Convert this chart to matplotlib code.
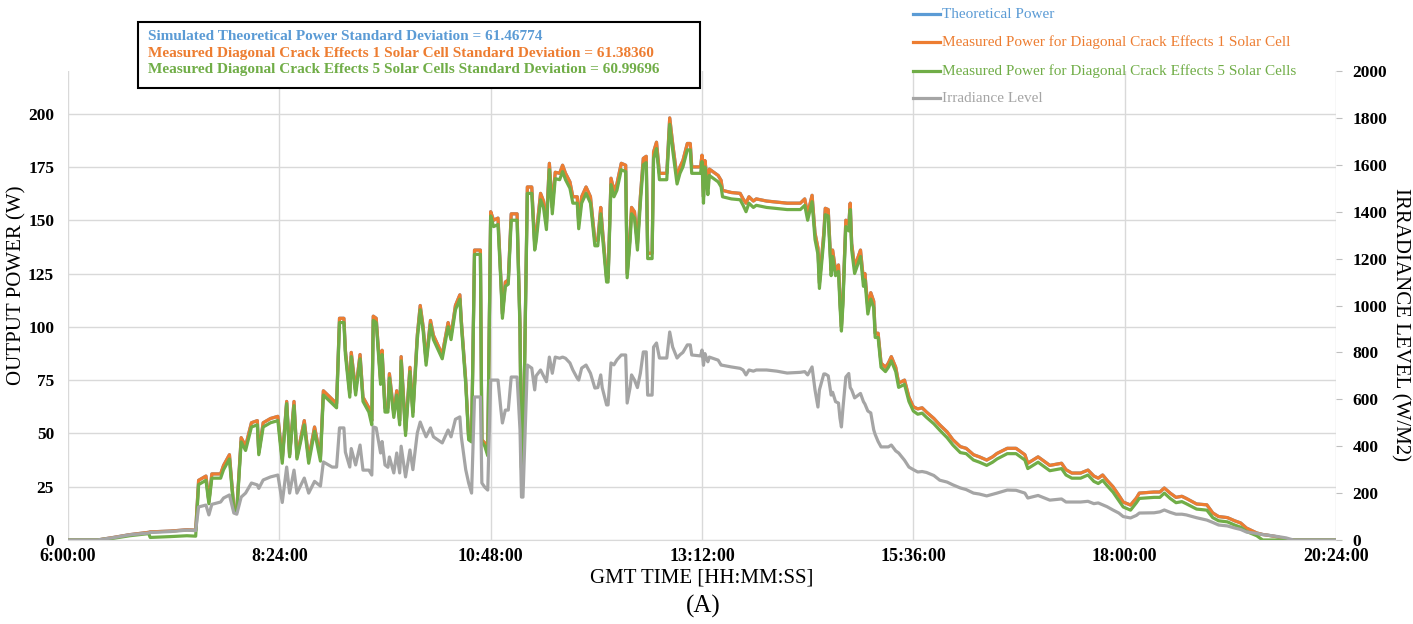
import matplotlib
matplotlib.use("Agg")
import matplotlib.pyplot as plt
from matplotlib.lines import Line2D
from matplotlib.patches import Rectangle
from matplotlib.ticker import FuncFormatter

plt.rcParams['font.family'] = ['Liberation Serif', 'DejaVu Serif']

# Logged samples (GMT), output power in W and irradiance in W/m2
times = [
    "6:00", "6:20", "6:31", "6:42", "6:55", "6:56", "7:10", "7:21", "7:27", "7:29",
    "7:34", "7:36", "7:38", "7:44", "7:46", "7:50", "7:53", "7:55", "7:58", "8:01",
    "8:05", "8:09", "8:10", "8:13", "8:18", "8:23", "8:26", "8:29", "8:31", "8:34",
    "8:36", "8:41", "8:44", "8:48", "8:52", "8:54", "9:00", "9:03", "9:05", "9:08",
    "9:09", "9:12", "9:13", "9:16", "9:19", "9:21", "9:25", "9:27", "9:28", "9:30",
    "9:33", "9:34", "9:36", "9:38", "9:39", "9:42", "9:44", "9:46", "9:47", "9:50",
    "9:53", "9:55", "9:58", "10:00", "10:02", "10:04", "10:07", "10:09", "10:15", "10:19",
    "10:21", "10:24", "10:27", "10:28", "10:31", "10:33", "10:35", "10:37", "10:41", "10:42",
    "10:44", "10:46", "10:48", "10:50", "10:53", "10:55", "10:56", "10:58", "11:00", "11:02",
    "11:06", "11:08", "11:09", "11:10", "11:13", "11:16", "11:18", "11:19", "11:22", "11:24",
    "11:26", "11:28", "11:30", "11:32", "11:35", "11:37", "11:39", "11:42", "11:44", "11:47",
    "11:48", "11:50", "11:53", "11:56", "11:59", "12:01", "12:03", "12:04", "12:07", "12:08",
    "12:10", "12:12", "12:14", "12:17", "12:20", "12:21", "12:23", "12:24", "12:26", "12:28",
    "12:30", "12:32", "12:34", "12:35", "12:38", "12:39", "12:41", "12:43", "12:48", "12:50",
    "12:52", "12:55", "12:57", "12:59", "13:02", "13:04", "13:05", "13:11", "13:12", "13:13",
    "13:14", "13:15", "13:16", "13:17", "13:23", "13:25", "13:26", "13:32", "13:38", "13:40",
    "13:42", "13:44", "13:47", "13:49", "13:56", "14:03", "14:10", "14:19", "14:22", "14:24",
    "14:27", "14:29", "14:31", "14:32", "14:35", "14:36", "14:38", "14:40", "14:41", "14:43",
    "14:45", "14:46", "14:47", "14:48", "14:50", "14:52", "14:53", "14:54", "14:56", "15:00",
    "15:02", "15:03", "15:05", "15:07", "15:09", "15:10", "15:12", "15:14", "15:17", "15:19",
    "15:21", "15:24", "15:26", "15:30", "15:33", "15:36", "15:39", "15:42", "15:45", "15:50",
    "15:54", "15:59", "16:03", "16:08", "16:12", "16:17", "16:21", "16:26", "16:30", "16:33",
    "16:40", "16:46", "16:52", "16:54", "17:01", "17:09", "17:17", "17:20", "17:24", "17:30",
    "17:35", "17:39", "17:42", "17:45", "17:48", "17:52", "17:56", "17:59", "18:04", "18:08",
    "18:10", "18:20", "18:24", "18:27", "18:31", "18:35", "18:39", "18:42", "18:49", "18:56",
    "19:00", "19:04", "19:10", "19:15", "19:19", "19:23", "19:30", "19:33", "19:34", "19:37",
    "19:44", "19:50", "19:55", "20:24",
]

crack_1cell_w = [
    0, 0, 1.2, 2.5, 3.6, 3.8, 4.2, 4.8, 4.6, 28,
    30, 18, 31, 31, 35, 40, 15, 14, 48, 44,
    55, 56, 41, 55, 57, 58, 38, 65, 40, 65,
    39, 56, 38, 53, 39, 70, 66, 64, 104, 104,
    89, 69, 88, 70, 87, 67, 62, 56, 105, 104,
    75, 89, 62, 62, 78, 59.5, 70, 56, 86, 51,
    81, 60, 96, 110, 100, 84, 103, 96, 87, 102,
    96, 110, 115, 103, 75, 48, 47, 136, 136, 47,
    45.5, 40.6, 154, 150, 151, 122, 106, 121, 122, 153,
    153, 100, 34, 34, 165.6, 165.6, 139, 143, 162.6, 159,
    148.6, 176.7, 156, 172.5, 172, 175.8, 172, 168, 161, 161,
    149, 161, 165.6, 161, 140.6, 140.6, 156, 147, 123, 123,
    169.7, 164, 167, 176.7, 175.8, 125, 143, 156, 154, 139,
    161, 179, 180, 134.5, 134.5, 182, 186.6, 172, 172, 198,
    186, 170, 175, 178, 186, 186, 175, 175, 180.5, 161,
    178, 172, 165, 174, 171, 168.7, 164, 163, 162.6, 160,
    158, 161, 159, 160, 159, 158.5, 158, 158, 160, 153,
    161.7, 144, 137, 120.5, 144, 155.6, 155, 126.5, 136, 126.5,
    129, 112.5, 100, 112.5, 150, 148, 158, 139, 128, 136,
    122, 125, 109, 116, 112, 97, 97, 83, 81, 83,
    86, 81, 73.6, 75, 67, 62.5, 61.5, 62, 60, 57,
    54, 50.7, 47, 43.8, 43, 40, 39, 37.5, 39, 40.6,
    43, 43, 40, 36, 39, 35, 36, 33, 31.4, 31.4,
    32.8, 30, 29, 30.5, 28, 25, 21, 17.8, 16.4, 19.7,
    22, 22.5, 22.5, 24.4, 22, 20, 20.5, 19.5, 16.9, 16.5,
    12.7, 11, 10.5, 9, 8, 5.6, 3.3, 2.8, 2.6, 2.3,
    1.5, 0.3, 0, 0,
]

crack_5cells_w = [
    0, 0, 0.8, 2.0, 3.0, 1.2, 1.6, 2.0, 1.8, 26,
    28, 17, 29, 29, 33, 38, 14, 13, 46, 42,
    53, 54, 40, 53, 55, 56, 36, 64, 39, 63,
    38, 54, 36, 51, 37, 68, 64, 62, 102, 102,
    87, 67, 86, 68, 85, 65, 60, 54, 103, 102,
    73, 87, 60, 60, 76, 57.5, 68, 54, 84, 49,
    79, 58, 94, 108, 98, 82, 101, 94, 85, 100,
    94, 108, 113, 101, 73, 47, 46, 134, 134, 46,
    44, 39.5, 152, 147, 148, 120, 104, 119, 120, 150,
    150, 98, 33, 33, 162.6, 162.6, 136, 140, 159.6, 156,
    145.6, 173.7, 153, 169.5, 169, 172.8, 169, 165, 158, 158,
    146, 158, 162.6, 158, 138, 138, 153, 144, 121, 121,
    166.7, 161, 164, 173.7, 172.8, 123, 140, 153, 151, 136,
    158, 176, 177, 132, 132, 179, 183.6, 169, 169, 195,
    183, 167, 172, 175, 183, 183, 172, 172, 177.5, 158,
    175, 169, 162, 171, 168, 165.7, 161, 160, 159.6, 157,
    154, 158, 156, 157, 156, 155.5, 155, 155, 157, 150,
    158.7, 141, 134, 118, 141, 152.6, 152, 124, 133, 124,
    126, 110, 98, 110, 147, 145, 155, 136, 125, 133,
    119, 122, 106, 113, 109, 95, 95, 81, 79, 81,
    84, 79, 71.6, 73, 65, 60.5, 59, 59.5, 57.5, 54.5,
    51.5, 48, 44.5, 41, 40.5, 37.5, 36.5, 35, 36.5, 38,
    40.5, 40.5, 37.5, 33.5, 36.5, 32.5, 33.5, 30.5, 29, 29,
    30.5, 27.5, 26.5, 28, 25.5, 22.5, 18.5, 15.5, 14, 17.5,
    19.5, 20, 20, 22, 19.5, 17.5, 18, 17, 14.5, 14,
    10.5, 9, 8.5, 7, 6, 4, 2, 0.5, 0, 0,
    0, 0, 0, 0,
]

# the simulated curve lies under the 1-cell measurement at this scale
theoretical_w = list(crack_1cell_w)

irradiance = [
    0, 0, 10, 22, 30, 32, 36, 42, 40, 141,
    149, 107, 152, 162, 179, 192, 115, 110, 183, 200,
    243, 235, 220, 256, 269, 277, 160, 311, 200, 298,
    200, 264, 200, 250, 230, 333, 311, 311, 478, 478,
    375, 311, 390, 320, 405, 298, 298, 277, 482, 478,
    371, 420, 320, 310, 354, 286, 371, 286, 400, 269,
    384, 300, 456, 503, 470, 440, 478, 440, 414, 469,
    440, 515, 525, 440, 300, 243, 200, 610, 610, 243,
    225, 213, 682, 682, 682, 554, 499, 554, 554, 695,
    695, 469, 183, 183, 746, 733, 640, 700, 725, 700,
    675, 780, 711, 780, 775, 780, 775, 755, 725, 690,
    682, 733, 746, 711, 648, 650, 704, 650, 576, 576,
    755, 747, 768, 789, 789, 584, 650, 704, 682, 650,
    711, 802, 802, 618, 618, 823, 840, 776, 776, 887,
    823, 776, 790, 800, 832, 832, 789, 785, 810, 745,
    795, 775, 760, 780, 767, 746, 745, 738, 732, 725,
    704, 725, 720, 725, 725, 720, 712, 715, 718, 704,
    738, 640, 567, 640, 708, 708, 700, 618, 630, 590,
    584, 520, 482, 560, 695, 710, 650, 640, 606, 625,
    590, 580, 550, 542, 470, 450, 420, 397, 397, 397,
    405, 380, 371, 340, 311, 300, 290, 292, 288, 275,
    255, 247, 235, 222, 215, 200, 196, 188, 195, 200,
    213, 212, 200, 179, 190, 170, 175, 162, 162, 162,
    165, 155, 158, 150, 142, 128, 115, 100, 94, 105,
    115, 116, 120, 128, 118, 110, 110, 107, 95, 85,
    75, 64, 60, 51, 45, 34, 28, 24, 23, 21,
    15, 9, 0, 0,
]

std_texts = [
    "Simulated Theoretical Power Standard Deviation = 61.46774",
    "Measured Diagonal Crack Effects 1 Solar Cell Standard Deviation = 61.38360",
    "Measured Diagonal Crack Effects 5 Solar Cells Standard Deviation = 60.99696",
]
series_names = [
    "Theoretical Power",
    "Measured Power for Diagonal Crack Effects 1 Solar Cell",
    "Measured Power for Diagonal Crack Effects 5 Solar Cells",
    "Irradiance Level",
]

BLUE, ORANGE, GREEN, GREY = "#5B9BD5", "#ED7D31", "#70AD47", "#A5A5A5"
GRID = "#D9D9D9"


def to_hours(s):
    h, m = s.split(":")
    return int(h) + int(m) / 60.0


hours = [to_hours(t) for t in times]

W, H = 1413, 624
fig = plt.figure(figsize=(W / 100, H / 100), dpi=100)
ax = fig.add_axes([68 / W, (H - 540) / H, (1336 - 68) / W, (540 - 71) / H])
ax2 = ax.twinx()

lw = 2.3
ax.plot(hours, theoretical_w, color=BLUE, lw=lw)
ax.plot(hours, crack_1cell_w, color=ORANGE, lw=lw)
ax.plot(hours, crack_5cells_w, color=GREEN, lw=lw)
ax2.plot(hours, irradiance, color=GREY, lw=lw)

ax.set_xlim(6, 20.4)
ax.set_ylim(0, 220)
ax2.set_ylim(0, 2000)
ax.set_xticks([6, 8.4, 10.8, 13.2, 15.6, 18, 20.4])
ax.set_yticks(range(0, 201, 25))
ax2.set_yticks(range(0, 2001, 200))


def hms(x, pos):
    h = int(x + 1e-6)
    m = int(round((x - h) * 60))
    return f"{h}:{m:02d}:00"


ax.xaxis.set_major_formatter(FuncFormatter(hms))

ax.grid(True, color=GRID, lw=1)
ax.set_axisbelow(True)
for s in ["top", "left", "right"]:
    ax.spines[s].set_visible(False)
    ax2.spines[s].set_visible(False)
ax.spines["bottom"].set_color(GRID)
ax2.spines["bottom"].set_visible(False)

ax.tick_params(axis="both", length=0)
ax.tick_params(axis="y", pad=10, labelsize=12.5)
ax.tick_params(axis="x", pad=6, labelsize=13)
ax2.tick_params(axis="y", length=4, color="#BFBFBF", labelsize=12.5, pad=8)
for lbl in ax.get_xticklabels() + ax.get_yticklabels() + ax2.get_yticklabels():
    lbl.set_fontweight("bold")

# axis titles
fig.text(17 / W, 1 - 285 / H, "OUTPUT POWER (W)", rotation=90,
         ha="center", va="center", fontsize=15)
fig.text(1400 / W, 1 - 325 / H, "IRRADIANCE LEVEL (W/M2)", rotation=270,
         ha="center", va="center", fontsize=15)
fig.text(702 / W, 1 - 578 / H, "GMT TIME [HH:MM:SS]", ha="center",
         va="center", fontsize=15)
fig.text(703 / W, 1 - 606 / H, "(A)", ha="center", va="center", fontsize=18)

# standard deviation box
fig.add_artist(Rectangle((138 / W, 1 - 88 / H), (700 - 138) / W, 66 / H,
                         transform=fig.transFigure, facecolor="white",
                         edgecolor="black", lw=1.5, zorder=5))
for txt, col, yp in zip(std_texts, [BLUE, ORANGE, GREEN], [36, 53, 70]):
    fig.text(148 / W, 1 - yp / H, txt, color=col, fontsize=11,
             fontweight="bold", va="center", ha="left", zorder=6)

# legend
for name, col, yp in zip(series_names, [BLUE, ORANGE, GREEN, GREY], [14, 42, 71, 98]):
    fig.add_artist(Line2D([913 / W, 940 / W], [1 - yp / H, 1 - yp / H],
                          transform=fig.transFigure, color=col, lw=lw))
    fig.text(942 / W, 1 - yp / H, name, color=col, fontsize=11,
             va="center", ha="left")

fig.savefig("out.png", dpi=100)
